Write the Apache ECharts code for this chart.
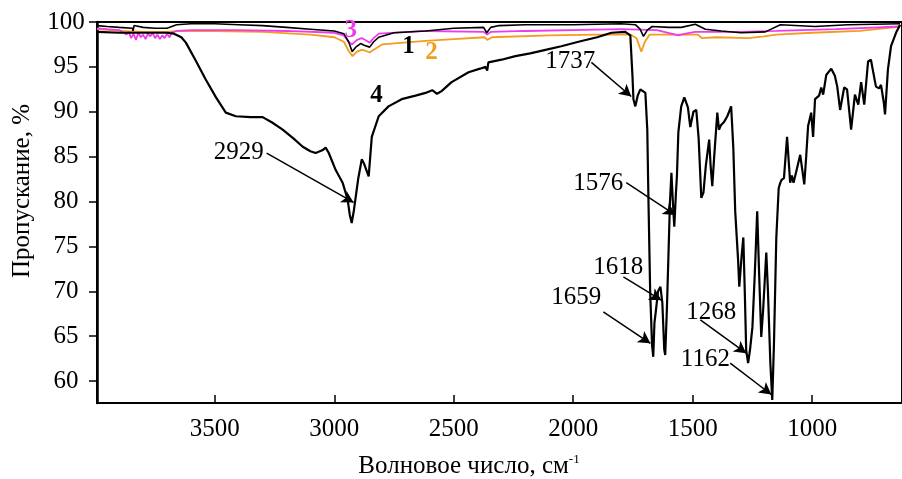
<!DOCTYPE html>
<html>
<head>
<meta charset="utf-8">
<script src="https://cdn.jsdelivr.net/npm/echarts@6/dist/echarts.min.js"></script>
<style>
  html, body { margin: 0; padding: 0; background: #fff; }
  #chart { width: 902px; height: 479px; }
</style>
</head>
<body>
<div id="chart"></div>
<script>
// волновое число (см-1) и пропускание (%) для каждой кривой
var wn1 = [3993, 3950, 3900, 3845, 3842, 3838, 3800, 3750, 3700, 3680, 3660, 3600, 3500, 3400, 3300, 3200, 3100, 3000, 2960, 2940, 2925, 2910, 2890, 2875, 2852, 2835, 2814, 2750, 2618, 2500, 2375, 2362, 2345, 2310, 2200, 2000, 1800, 1740, 1720, 1706, 1690, 1670, 1600, 1548, 1489, 1447, 1380, 1297, 1196, 1133, 988, 850, 632];
var tr1 = [99.6, 99.5, 99.4, 99.3, 99.0, 99.6, 99.4, 99.3, 99.3, 99.5, 99.7, 99.8, 99.8, 99.7, 99.6, 99.4, 99.2, 99.0, 98.7, 97.8, 96.7, 97.2, 97.6, 97.4, 97.2, 97.8, 98.3, 98.8, 99.0, 99.3, 99.4, 98.8, 99.4, 99.6, 99.7, 99.7, 99.8, 99.7, 99.2, 98.4, 99.1, 99.5, 99.4, 99.4, 99.75, 99.2, 99.0, 98.8, 98.9, 99.7, 99.5, 99.7, 99.8];

var wn2 = [3993, 3900, 3800, 3700, 3650, 3500, 3300, 3100, 3000, 2960, 2940, 2924, 2905, 2885, 2870, 2852, 2830, 2800, 2618, 2500, 2370, 2360, 2340, 2100, 1900, 1760, 1735, 1715, 1700, 1680, 1550, 1480, 1460, 1400, 1268, 1200, 1150, 1000, 800, 700, 632];
var tr2 = [99.2, 99.0, 98.9, 98.9, 99.0, 99.0, 98.9, 98.6, 98.3, 97.8, 96.8, 96.2, 96.7, 96.9, 96.8, 96.6, 97.0, 97.5, 97.9, 98.1, 98.3, 98.0, 98.3, 98.5, 98.6, 98.6, 98.2, 96.7, 97.8, 98.6, 98.6, 98.6, 98.2, 98.3, 98.2, 98.4, 98.6, 98.8, 99.0, 99.3, 99.5];

var wn3 = [3993, 3950, 3900, 3870, 3860, 3850, 3840, 3830, 3820, 3810, 3800, 3790, 3780, 3770, 3760, 3750, 3740, 3730, 3720, 3710, 3700, 3690, 3680, 3660, 3600, 3400, 3200, 3000, 2960, 2940, 2925, 2905, 2885, 2870, 2852, 2835, 2814, 2618, 2375, 2360, 2345, 2200, 1800, 1650, 1560, 1530, 1489, 1300, 1150, 900, 632];
var tr3 = [99.3, 99.2, 99.1, 98.6, 98.9, 98.2, 98.7, 98.0, 98.8, 98.3, 98.6, 98.1, 98.7, 98.4, 98.8, 98.2, 98.6, 98.1, 98.5, 98.2, 98.7, 98.3, 98.8, 99.0, 99.1, 99.1, 99.0, 98.8, 98.5, 97.8, 97.5, 98.0, 98.2, 98.0, 97.7, 98.2, 98.7, 99.0, 98.9, 98.6, 98.9, 99.0, 99.2, 99.1, 98.5, 98.7, 98.9, 98.9, 99.0, 99.2, 99.5];

var wn4 = [3993, 3900, 3800, 3700, 3671, 3640, 3621, 3580, 3538, 3495, 3454, 3412, 3350, 3300, 3260, 3216, 3170, 3132, 3100, 3078, 3050, 3036, 3023, 2994, 2965, 2944, 2935, 2927, 2918, 2900, 2885, 2875, 2856, 2843, 2814, 2773, 2718, 2660, 2618, 2590, 2570, 2551, 2509, 2438, 2390, 2367, 2360, 2355, 2300, 2242, 2180, 2116, 2050, 1978, 1900, 1840, 1782, 1761, 1752, 1748, 1740, 1730, 1719, 1698, 1690, 1685, 1678, 1670, 1665, 1660, 1655, 1645, 1635, 1627, 1619, 1615, 1608, 1602, 1595, 1589, 1583, 1577, 1570, 1566, 1560, 1548, 1535, 1527, 1520, 1510, 1497, 1485, 1475, 1464, 1455, 1445, 1431, 1425, 1418, 1410, 1397, 1390, 1382, 1368, 1355, 1339, 1330, 1322, 1310, 1305, 1295, 1288, 1282, 1276, 1268, 1260, 1250, 1240, 1230, 1222, 1213, 1205, 1192, 1185, 1175, 1167, 1160, 1150, 1140, 1133, 1128, 1118, 1105, 1092, 1085, 1078, 1065, 1050, 1033, 1025, 1017, 1004, 996, 988, 971, 962, 954, 941, 920, 905, 895, 883, 866, 854, 837, 821, 807, 795, 782, 766, 754, 745, 733, 720, 712, 700, 695, 683, 670, 660, 649, 632];
var tr4 = [98.9, 98.8, 98.8, 98.8, 98.7, 98.3, 97.7, 95.7, 93.6, 91.6, 89.9, 89.5, 89.4, 89.4, 88.8, 88.0, 87.0, 86.1, 85.6, 85.4, 85.7, 86.0, 85.4, 83.5, 82.1, 80.2, 78.5, 77.6, 79.0, 82.5, 84.7, 84.2, 82.8, 87.2, 89.5, 90.6, 91.4, 91.8, 92.1, 92.4, 92.0, 92.3, 93.3, 94.4, 94.8, 95.0, 94.6, 95.5, 95.8, 96.2, 96.5, 96.9, 97.3, 97.8, 98.3, 98.8, 98.9, 98.5, 94.0, 91.4, 90.6, 91.8, 92.5, 92.1, 88.0, 80.0, 70.0, 64.0, 62.7, 66.5, 67.6, 70.0, 70.5, 68.7, 63.5, 62.9, 68.0, 73.5, 80.0, 83.2, 80.0, 77.2, 81.0, 82.8, 87.7, 90.6, 91.6, 91.6, 90.5, 88.3, 90.0, 90.2, 87.0, 80.4, 81.0, 84.0, 86.9, 84.0, 81.7, 85.0, 89.9, 88.0, 88.5, 88.9, 89.5, 90.6, 86.0, 78.9, 73.5, 70.5, 74.0, 76.0, 70.0, 63.4, 62.0, 63.5, 66.0, 72.0, 78.9, 72.0, 64.9, 68.0, 74.3, 70.0, 62.0, 57.9, 64.0, 76.0, 81.5, 82.1, 82.4, 82.6, 87.2, 82.1, 82.9, 82.1, 83.5, 85.2, 81.9, 85.0, 88.4, 89.9, 87.2, 91.4, 91.8, 92.7, 91.9, 94.1, 94.8, 94.0, 92.8, 90.2, 92.7, 92.5, 88.0, 91.9, 90.8, 93.3, 90.8, 95.6, 95.8, 94.5, 92.8, 92.6, 93.0, 91.0, 89.7, 94.7, 97.3, 98.0, 98.8, 99.7];

var xTicks = [3500, 3000, 2500, 2000, 1500, 1000];
var yTicks = [60, 65, 70, 75, 80, 85, 90, 95, 100];

// подписи пиков: текст, место текста, начало и конец стрелки
var peakNames = ['2929', '1737', '1576', '1618', '1659', '1268', '1162'];
var peakText = [[3400, 85.5], [2012, 95.6], [1895, 82.0], [1811, 72.6], [1987, 69.3], [1422, 67.6], [1447, 62.4]];
var arrowFrom = [[3283, 85.4], [1924, 95.5], [1778, 82.1], [1790, 71.6], [1874, 67.7], [1468, 66.8], [1343, 62.0]];
var arrowTo = [[2919, 79.9], [1757, 91.7], [1573, 78.5], [1631, 69.0], [1677, 64.2], [1276, 63.1], [1171, 58.5]];

// номера кривых
var curveNames = ['1', '2', '3', '4'];
var curveLabelPos = [[2689, 97.3], [2593, 96.6], [2931, 99.0], [2823, 91.8]];
var curveColors = ['#000000', '#f39c1e', '#ee3bee', '#000000'];

function zip(a, b) {
  return a.map(function (v, i) { return [v, b[i]]; });
}

var FONT = 'Liberation Serif';
var chart = echarts.init(document.getElementById('chart'));

var arrowLines = arrowFrom.map(function (p, i) {
  return [{ coord: p }, { coord: arrowTo[i] }];
});

chart.setOption({
  animation: false,
  grid: {
    left: 97, right: -2, top: 22, bottom: 76,
    show: true, borderColor: '#000', borderWidth: 2
  },
  xAxis: {
    type: 'value',
    inverse: true,
    min: 624,
    max: 3993,
    axisLine: { show: true, onZero: false, lineStyle: { color: '#000', width: 2 } },
    axisTick: { show: true, inside: true, length: 8, customValues: xTicks, lineStyle: { color: '#000', width: 1.5 } },
    axisLabel: {
      customValues: xTicks, color: '#000', fontFamily: FONT, fontSize: 25, margin: 14,
      formatter: function (v) { return String(v); }
    },
    splitLine: { show: false }
  },
  yAxis: {
    type: 'value',
    min: 57.55,
    max: 100,
    axisLine: { show: true, lineStyle: { color: '#000', width: 2.5 } },
    axisTick: { show: true, length: 8, customValues: yTicks, lineStyle: { color: '#000', width: 1.5 } },
    axisLabel: {
      customValues: yTicks, color: '#000', fontFamily: FONT, fontSize: 25, margin: 31, align: 'center',
      formatter: function (v) { return String(v); }
    },
    splitLine: { show: false }
  },
  graphic: [
    {
      type: 'text', x: 469, y: 466,
      style: {
        text: '{t|Волновое число, см}{s|-1}',
        align: 'center', verticalAlign: 'middle',
        rich: {
          t: { fontFamily: FONT, fontSize: 25, fill: '#000' },
          s: { fontFamily: FONT, fontSize: 13, fill: '#000', verticalAlign: 'top', padding: [0, 0, 12, 0] }
        }
      }
    },
    {
      type: 'text', x: 22, y: 191, rotation: Math.PI / 2,
      style: {
        text: 'Пропускание, %', fontFamily: FONT, fontSize: 25, fill: '#000',
        align: 'center', verticalAlign: 'middle'
      }
    }
  ],
  series: [
    { type: 'line', data: zip(wn1, tr1), showSymbol: false, lineStyle: { color: curveColors[0], width: 1.6 }, z: 5 },
    { type: 'line', data: zip(wn2, tr2), showSymbol: false, lineStyle: { color: curveColors[1], width: 1.8 }, z: 3 },
    { type: 'line', data: zip(wn3, tr3), showSymbol: false, lineStyle: { color: curveColors[2], width: 1.8 }, z: 4 },
    { type: 'line', data: zip(wn4, tr4), showSymbol: false, lineStyle: { color: curveColors[3], width: 2.2 }, z: 6 },
    {
      type: 'scatter', symbolSize: 0, z: 8,
      itemStyle: { opacity: 1 },
      data: peakText.map(function (p, i) { return { value: p, name: peakNames[i] }; }),
      label: { show: true, position: 'inside', formatter: '{b}', color: '#000', fontFamily: FONT, fontSize: 25 },
      markLine: {
        silent: true, animation: false,
        symbol: ['none', 'arrow'], symbolSize: [10, 12],
        label: { show: false },
        lineStyle: { color: '#000', width: 1.5, type: 'solid', opacity: 1 },
        itemStyle: { color: '#000' },
        data: arrowLines
      }
    },
    {
      type: 'scatter', symbolSize: 0, z: 8,
      itemStyle: { opacity: 1 },
      data: curveLabelPos.map(function (p, i) {
        return { value: p, name: curveNames[i], label: { color: curveColors[i] } };
      }),
      label: { show: true, position: 'inside', formatter: '{b}', fontFamily: FONT, fontSize: 25, fontWeight: 'bold' }
    }
  ]
});
</script>
</body>
</html>
